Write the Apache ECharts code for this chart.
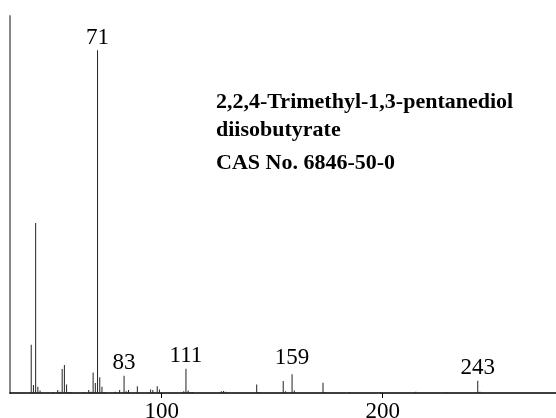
<!DOCTYPE html>
<html>
<head>
<meta charset="utf-8">
<script src="https://cdn.jsdelivr.net/npm/echarts@6/dist/echarts.min.js"></script>
<style>
  html, body { margin: 0; padding: 0; background: #fff; }
  #chart { width: 556px; height: 418px; }
</style>
</head>
<body>
<div id="chart"></div>
<script>
// Mass spectrum peaks: m/z and relative intensity (%)
const mzValues = [41, 42, 43, 44, 45, 51, 53, 54, 55, 56, 57, 58, 59, 65, 67, 68, 69, 70, 71, 72, 73, 74,
  79, 81, 83, 84, 85, 89, 95, 96, 98, 99, 110, 111, 112, 113, 114, 127, 128, 129, 143, 144,
  155, 156, 159, 160, 173, 174, 185, 199, 215, 229, 243, 244];
const intensities = [14.1, 2.3, 49.6, 1.8, 0.7, 0.3, 0.9, 0.4, 7.0, 8.2, 2.5, 0.3, 0.3, 0.3, 0.9, 0.4, 6.0, 2.9, 100, 4.6, 1.8, 0.3,
  0.4, 0.9, 5.0, 0.5, 0.9, 2.0, 1.0, 0.9, 2.0, 1.0, 0.5, 7.1, 0.7, 0.3, 0.3, 0.5, 0.6, 0.4, 2.5, 0.3,
  3.5, 0.5, 5.5, 0.7, 3.0, 0.3, 0.3, 0.3, 0.4, 0.2, 3.6, 0.4];
const labeledPeaks = [71, 83, 111, 159, 243];
const xTickValues = [100, 200];
const titleLines = ['2,2,4-Trimethyl-1,3-pentanediol', 'diisobutyrate', 'CAS No. 6846-50-0'];

const serif = '"Liberation Serif", "Times New Roman", serif';
// extra gap above some labelled peaks
const labelGap = { 159: 5 };

const peakData = mzValues.map((mz, i) => {
  const item = { value: [mz, intensities[i]] };
  if (labeledPeaks.includes(mz)) {
    item.label = {
      show: true,
      position: 'top',
      distance: labelGap[mz] || 1,
      formatter: String(mz),
      fontFamily: serif,
      fontSize: 23,
      color: '#000'
    };
  }
  return item;
});

const chart = echarts.init(document.getElementById('chart'), null, { renderer: 'canvas' });
chart.setOption({
  animation: false,
  backgroundColor: '#fff',
  grid: { left: 10, right: 0, top: 16, bottom: 25, containLabel: false, outerBoundsMode: 'none' },
  xAxis: {
    type: 'value',
    min: 31.4,
    max: 278.4,
    splitLine: { show: false },
    axisLine: { show: true, onZero: false, lineStyle: { color: '#000', width: 1.5 } },
    axisTick: { show: true, length: 5, customValues: xTickValues, lineStyle: { color: '#000', width: 1 } },
    axisLabel: {
      show: true,
      customValues: xTickValues,
      margin: 7,
      fontFamily: serif,
      fontSize: 23,
      color: '#000'
    }
  },
  yAxis: {
    type: 'value',
    min: 0,
    max: 110,
    splitLine: { show: false },
    axisLine: { show: true, lineStyle: { color: '#888', width: 2 } },
    axisTick: { show: false },
    axisLabel: { show: false }
  },
  series: [{
    type: 'bar',
    barWidth: 1,
    itemStyle: { color: '#222' },
    label: { show: false },
    data: peakData
  }],
  graphic: titleLines.map((line, i) => ({
    type: 'text',
    left: 216,
    top: [91, 119, 152][i],
    style: {
      text: line,
      font: 'bold 22px ' + serif,
      fill: '#000'
    }
  }))
});
</script>
</body>
</html>
